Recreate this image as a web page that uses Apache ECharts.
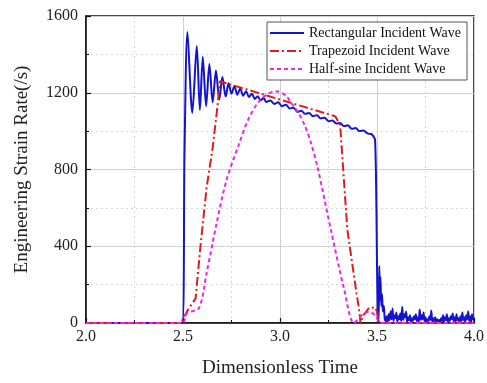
<!DOCTYPE html>
<html>
<head>
<meta charset="utf-8">
<script src="https://cdn.jsdelivr.net/npm/echarts@6/dist/echarts.min.js"></script>
<style>
  html, body { margin: 0; padding: 0; background: #fff; }
  #chart { width: 487px; height: 383px; }
</style>
</head>
<body>
<div id="chart"></div>
<script>
// series names
var seriesNames = ['Rectangular Incident Wave', 'Trapezoid Incident Wave', 'Half-sine Incident Wave'];

// rectangular wave: rise, ringing, slow decay, drop
var rectWave = [
  [2.0, 0], [2.496, 0], [2.508, 900], [2.523, 1516], [2.548, 1095], [2.571, 1443], [2.587, 1110],
  [2.602, 1388], [2.619, 1130], [2.636, 1350], [2.653, 1150], [2.670, 1316], [2.687, 1165],
  [2.703, 1282], [2.720, 1180], [2.735, 1250], [2.750, 1195], [2.765, 1235], [2.780, 1190],
  [2.795, 1222], [2.810, 1185], [2.825, 1208], [2.840, 1178], [2.855, 1195], [2.870, 1168],
  [2.885, 1182], [2.900, 1160], [2.915, 1172], [2.93, 1152], [2.95, 1160], [2.97, 1142],
  [2.99, 1150], [3.01, 1130], [3.03, 1138], [3.05, 1118], [3.07, 1122], [3.09, 1100],
  [3.11, 1106], [3.13, 1090], [3.15, 1094], [3.17, 1078], [3.19, 1083], [3.21, 1066],
  [3.23, 1070], [3.25, 1052], [3.27, 1055], [3.29, 1040], [3.31, 1042], [3.33, 1026],
  [3.35, 1030], [3.37, 1012], [3.39, 1016], [3.41, 1000], [3.43, 1003], [3.45, 988],
  [3.47, 985], [3.48, 975], [3.49, 955], [3.497, 600], [3.503, 50], [3.508, 0],
  [3.512, 297], [3.515, 120], [3.518, 240], [3.522, 90], [3.526, 150], [3.53, 60],
  [3.535, 90], [3.54, 20]
];
// noisy tail of the rectangular wave
var rectTail = [
  [3.545, 10], [3.55, 35], [3.555, 5], [3.56, 45], [3.565, 15], [3.57, 60], [3.575, 20], [3.58, 75],
  [3.585, 10], [3.59, 40], [3.595, 25], [3.6, 55], [3.605, 5], [3.61, 35], [3.615, 20], [3.62, 50],
  [3.625, 10], [3.63, 85], [3.635, 15], [3.64, 45], [3.645, 30], [3.65, 60], [3.655, 5], [3.66, 30],
  [3.665, 15], [3.67, 40], [3.675, 5], [3.68, 25], [3.685, 10], [3.69, 35], [3.695, 20], [3.7, 45],
  [3.705, 10], [3.71, 30], [3.715, 5], [3.72, 70], [3.725, 15], [3.73, 40], [3.735, 20], [3.74, 55],
  [3.745, 10], [3.75, 30], [3.755, 5], [3.76, 20], [3.765, 10], [3.77, 35], [3.775, 15], [3.78, 65],
  [3.785, 5], [3.79, 25], [3.795, 10], [3.8, 30], [3.805, 5], [3.81, 20], [3.815, 10], [3.82, 15],
  [3.825, 5], [3.83, 25], [3.835, 10], [3.84, 40], [3.845, 5], [3.85, 30], [3.855, 15], [3.86, 45],
  [3.865, 5], [3.87, 25], [3.875, 10], [3.88, 35], [3.885, 20], [3.89, 50], [3.895, 10], [3.9, 30],
  [3.905, 5], [3.91, 45], [3.915, 15], [3.92, 25], [3.925, 5], [3.93, 35], [3.935, 10], [3.94, 55],
  [3.945, 15], [3.95, 30], [3.955, 5], [3.96, 40], [3.965, 20], [3.97, 60], [3.975, 10], [3.98, 35],
  [3.985, 5], [3.99, 45], [3.995, 20], [4.0, 30]
];

var trapWave = [
  [2.0, 0], [2.488, 0], [2.51, 40], [2.53, 77], [2.565, 128], [2.59, 400], [2.622, 708],
  [2.653, 913], [2.68, 1150], [2.69, 1260], [3.285, 1077], [3.295, 1072], [3.31, 1032],
  [3.347, 487], [3.395, 150], [3.407, 77], [3.415, 0], [3.43, 40], [3.458, 77], [3.49, 82],
  [3.5, 60], [3.51, 0], [4.0, 0]
];

var sineWave = [
  [2.0, 0], [2.497, 0], [2.52, 51], [2.582, 77], [2.622, 262], [2.673, 518], [2.724, 744],
  [2.786, 925], [2.837, 1062], [2.888, 1150], [2.939, 1195], [2.985, 1207],
  [3.03, 1185], [3.066, 1135], [3.092, 1100], [3.126, 1033], [3.158, 945], [3.194, 810],
  [3.262, 487], [3.33, 179], [3.381, 0], [3.423, 41], [3.458, 58], [3.49, 41], [3.52, 0],
  [4.0, 0]
];

var xTicks = { min: 2.0, max: 4.0, step: 0.5 };
var yTicks = { min: 0, max: 1600, step: 400 };

var serif = 'Liberation Serif';
var chart = echarts.init(document.getElementById('chart'));

function axisBase() {
  return {
    axisLine: { show: true, onZero: false, lineStyle: { color: '#111', width: 1.5 } },
    axisTick: { show: true, inside: true, length: 5, lineStyle: { color: '#111', width: 1.2 } },
    minorTick: { show: true, splitNumber: 2, length: 3, lineStyle: { color: '#111' } },
    splitLine: { show: true, lineStyle: { color: '#cfcfcf', width: 1 } },
    minorSplitLine: { show: true, lineStyle: { color: '#d8d8d8', type: [2, 3], width: 1 } },
    axisLabel: { color: '#222', fontFamily: serif, fontSize: 16 },
    nameTextStyle: { color: '#222', fontFamily: serif, fontSize: 19 }
  };
}

var xAxis = axisBase();
xAxis.type = 'value';
xAxis.min = xTicks.min;
xAxis.max = xTicks.max;
xAxis.interval = xTicks.step;
xAxis.name = 'Dimensionless Time';
xAxis.nameLocation = 'middle';
xAxis.nameGap = 36;
xAxis.axisLabel.formatter = function (v) { return v.toFixed(1); };
xAxis.axisLabel.margin = 6;

var yAxis = axisBase();
yAxis.type = 'value';
yAxis.min = yTicks.min;
yAxis.max = yTicks.max;
yAxis.interval = yTicks.step;
yAxis.name = 'Engineering Strain Rate(/s)';
yAxis.nameLocation = 'middle';
yAxis.nameGap = 54;
yAxis.axisLabel.margin = 8;
yAxis.axisLabel.formatter = function (v) { return String(v); };

var option = {
  animation: false,
  backgroundColor: '#fff',
  grid: {
    left: 86, right: 9, top: 16, bottom: 55,
    show: true, borderColor: '#111', borderWidth: 1.5, backgroundColor: 'transparent'
  },
  legend: {
    orient: 'vertical',
    left: 267, top: 22,
    padding: [4, 6, 4, 2],
    itemGap: 4,
    itemWidth: 34, itemHeight: 14,
    borderColor: '#555', borderWidth: 1,
    backgroundColor: '#fff',
    itemStyle: { opacity: 0 },
    textStyle: { fontFamily: serif, fontSize: 14, color: '#111' },
    data: seriesNames
  },
  xAxis: xAxis,
  yAxis: yAxis,
  series: [
    {
      name: seriesNames[0], type: 'line', showSymbol: false, symbol: 'none',
      data: rectWave.concat(rectTail), smooth: 0.3,
      lineStyle: { color: '#1414cc', width: 2 }, itemStyle: { color: '#1414cc' }
    },
    {
      name: seriesNames[1], type: 'line', showSymbol: false, symbol: 'none',
      data: trapWave,
      lineStyle: { color: '#dd1c1c', width: 2, type: [9, 3, 2, 3] }, itemStyle: { color: '#dd1c1c' }
    },
    {
      name: seriesNames[2], type: 'line', showSymbol: false, symbol: 'none',
      data: sineWave, smooth: 0.3,
      lineStyle: { color: '#ee22ee', width: 2, type: [4, 3] }, itemStyle: { color: '#ee22ee' }
    }
  ]
};
chart.setOption(option);
</script>
</body>
</html>
